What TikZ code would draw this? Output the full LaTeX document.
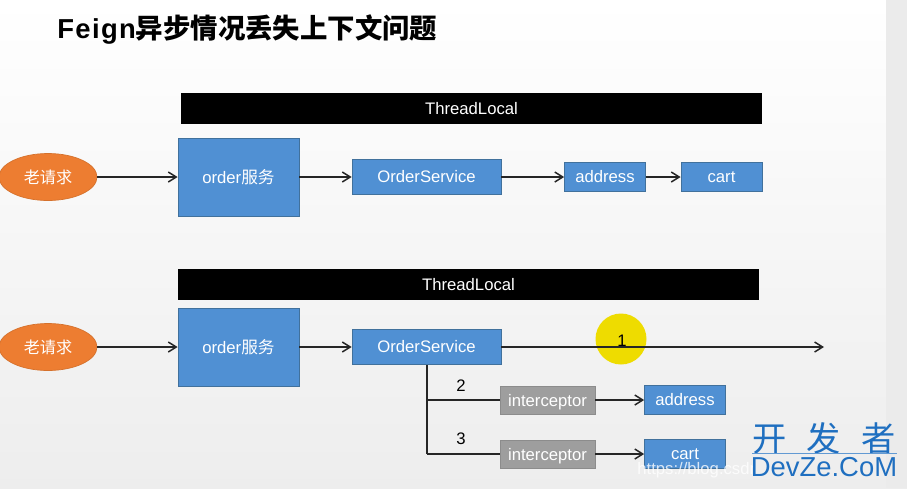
\documentclass[tikz,border=0pt]{standalone}
\usepackage{fontspec}
\setmainfont{Liberation Sans}
\newfontfamily\cjk{Noto Sans CJK SC}
\newfontfamily\titlelatin[LetterSpace=5]{Liberation Sans}
\usepackage{xcolor}
\usetikzlibrary{arrows.meta,positioning,shapes.geometric}
\definecolor{svcblue}{HTML}{5090D3}
\definecolor{svcedge}{HTML}{41719C}
\definecolor{reqorange}{HTML}{ED7D31}
\definecolor{markblue}{HTML}{1F6FC0}
\definecolor{penmark}{HTML}{EEDC00}

\begin{document}
\begin{tikzpicture}[x=0.02cm,y=-0.02cm,
      svc/.style={draw=svcedge,fill=svcblue,text=white,inner sep=0pt,font=\fontsize{9.5}{12}\selectfont},
      bigsvc/.style={svc,minimum width=2.42cm,minimum height=1.56cm},
      midsvc/.style={svc,minimum width=2.98cm,minimum height=0.70cm},
      leaf/.style={svc,minimum width=1.62cm,minimum height=0.58cm},
      req/.style={ellipse,draw=reqorange!90!black,fill=reqorange,text=white,inner sep=0pt,
                  minimum width=1.96cm,minimum height=0.94cm,font=\fontsize{9.2}{12}\cjk},
      bar/.style={fill=black,text=white,inner sep=0pt,minimum width=11.62cm,minimum height=0.62cm,
                  font=\fontsize{9.5}{12}\selectfont},
      guard/.style={draw=black!45,fill=black!38,text=white,inner sep=0pt,minimum width=1.90cm,
                  minimum height=0.56cm,text height=7pt,text depth=0pt,font=\fontsize{9.5}{12}\selectfont},
      num/.style={inner sep=0pt,font=\fontsize{9.5}{12}\selectfont},
      wire/.style={line width=0.85pt,black!85},
      flow/.style={wire,-{Straight Barb[length=1.6mm,width=2mm]}}]
    % page
    \useasboundingbox (0,0) rectangle (907,488);
    \shade[top color=white,bottom color=black!7] (0,0) rectangle (907,488);
    \fill[black!8] (886,0) rectangle (907,488);
    % title
    \node[anchor=west,inner sep=0pt] (title) at (57,30)
          {\fontsize{15.6}{18}\selectfont\titlelatin\bfseries Feign\cjk\bfseries 异步情况丢失上下文问题};
    % first row
    \node[bar] (barA) at (471.5,108.5) {ThreadLocal};
    \node[req] (reqA) at (48,177) {老请求};
    \node[bigsvc] (orderA) at (238.5,177) {order{\cjk 服务}};
    \node[midsvc] (serviceA) at (426.5,177) {OrderService};
    \node[leaf] (addressA) at (605,177) {address};
    \node[leaf] (cartA) at (721.5,177) {cart};
    \draw[flow] (reqA) -- (orderA);
    \draw[flow] (orderA) -- (serviceA);
    \draw[flow] (serviceA) -- (addressA);
    \draw[flow] (addressA) -- (cartA);
    % second row
    \node[bar] (barB) at (468.5,284.5) {ThreadLocal};
    \node[req] (reqB) at (48,347) {老请求};
    \node[bigsvc] (orderB) at (238.5,347) {order{\cjk 服务}};
    \node[midsvc] (serviceB) at (426.5,347) {OrderService};
    \fill[penmark] (621,339) circle (25.5);
    \coordinate (endB) at (824,347);
    \draw[flow] (reqB) -- (orderB);
    \draw[flow] (orderB) -- (serviceB);
    \draw[flow] (serviceB) -- (endB);
    \node[num] (numA) at (622,341) {1};
    % branches
    \node[guard] (guardA) at (547.5,400) {interceptor};
    \node[guard] (guardB) at (547.5,454) {interceptor};
    \node[leaf] (addressB) at (685,400) {address};
    \node[leaf] (cartB) at (685,454) {cart};
    \coordinate (forkA) at (427,400);
    \coordinate (forkB) at (427,454);
    \draw[wire] (forkB) -- (forkB |- serviceB.south);
    \draw[wire] (forkA) -- (guardA);
    \draw[wire] (forkB) -- (guardB);
    \draw[flow] (guardA) -- (addressB);
    \draw[flow] (guardB) -- (cartB);
    \node[num] (numB) at (461,386) {2};
    \node[num] (numC) at (461,439) {3};
    % watermarks
    \node[anchor=west,inner sep=0pt,text=white,opacity=0.8,font=\fontsize{9.5}{11}\selectfont] (csdn) at (637,470) {https://blog.csdr};
    \node[inner sep=0pt,text=markblue,font=\fontsize{19.5}{22}\cjk] (markA) at (824,438) {开\hspace{0.6em}发\hspace{0.6em}者};
    \draw[markblue!70,line width=0.4pt] (752,453.5) -- (897,453.5);
    \node[inner sep=0pt,text=markblue,font=\fontsize{15.6}{20}\selectfont] (markB) at (824,467) {DevZe.CoM};
  \end{tikzpicture}
\end{document}
